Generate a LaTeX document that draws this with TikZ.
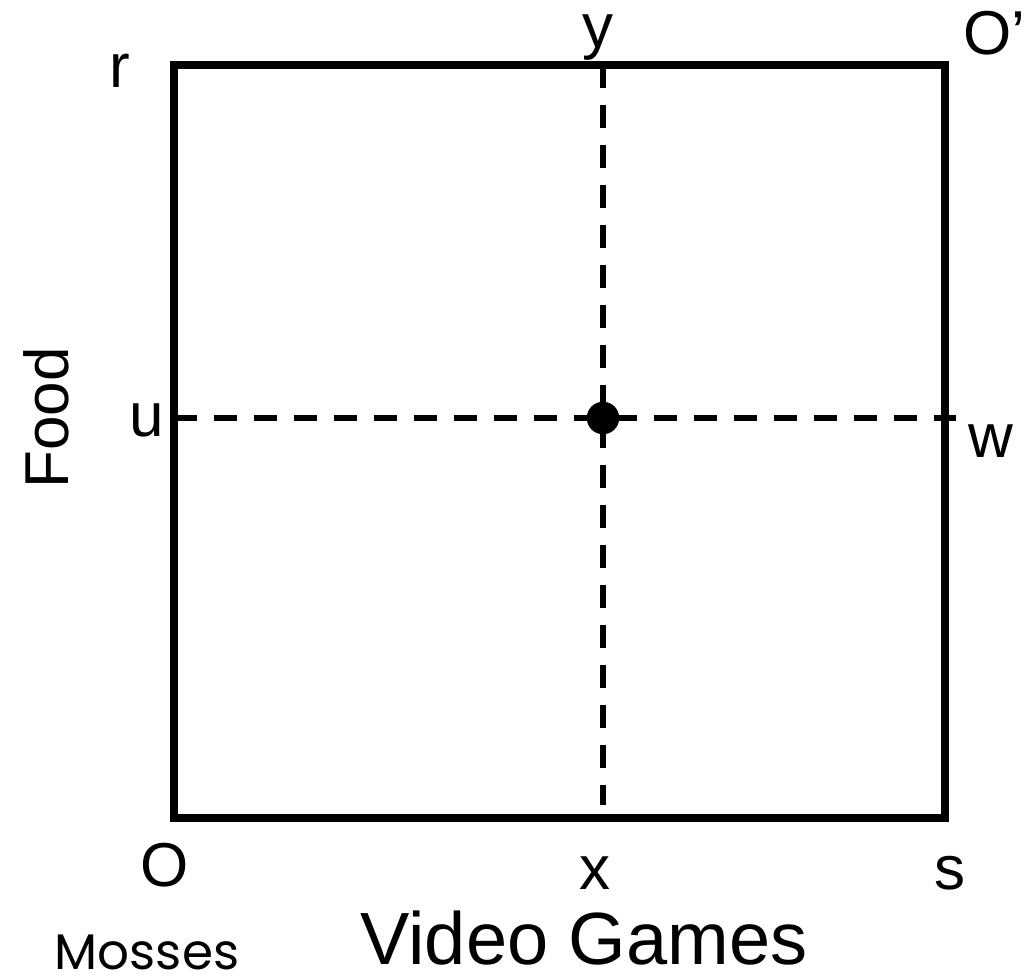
\documentclass[tikz,border=0pt]{standalone}
\usepackage{fontspec}
\setmainfont{Liberation Sans}
\newfontfamily\mossesfont{Poppins}
\usetikzlibrary{calc}
\tikzset{>=latex}
\tikzset{
  edgebox/.style={line width=8pt, line cap=rect},
  guide/.style={line width=6pt, dash pattern=on 23pt off 17pt},
  lbl/.style={inner sep=0pt, font=\fontsize{62}{70}\selectfont}
}

\begin{document}
\begin{tikzpicture}[x=1pt,y=1pt]
                \useasboundingbox (0,0) rectangle (1028,977);
                \coordinate (O) at (174,159);
                \coordinate (s) at (945,159);
                \coordinate (Op) at (945,912);
                \coordinate (r) at (174,912);
                \coordinate (xtop) at (603,912);
                \coordinate (xbot) at (603,172);
                \coordinate (uleft) at (174,559);
                \coordinate (wright) at (956,559);
                \coordinate (pt) at (603,559);

                \draw[edgebox] (O) -- (s) -- (Op) -- (r) -- cycle;
                \draw[guide] (xtop) -- (xbot);
                \draw[guide] (uleft) -- (wright);
                \filldraw[fill=black] (pt) circle (16pt);

                \node[lbl, anchor=base] (rlab) at (120,889) {r};
                \node[lbl, anchor=base] (ylab) at (598,929) {y};
                \node[lbl, anchor=base west] (Oplab) at (963,922) {O’};
                \node[lbl, anchor=base] (ulab) at (147,540) {u};
                \node[lbl, anchor=base west] (wlab) at (968,519) {w};
                \node[lbl, anchor=base] (Olab) at (165,90) {O};
                \node[lbl, anchor=base] (xlab) at (595,87) {x};
                \node[lbl, anchor=base] (slab) at (950,87) {s};
                \node[lbl, anchor=base, rotate=90] (food) at (68,559) {Food};
                \node[lbl, anchor=base, font=\fontsize{74}{80}\selectfont] (vg) at (584,12) {Video Games};
                \node[inner sep=0pt, anchor=base, font=\mossesfont\fontsize{50}{56}\selectfont] (mosses) at (147,7) {Mosses};
              \end{tikzpicture}
\end{document}
